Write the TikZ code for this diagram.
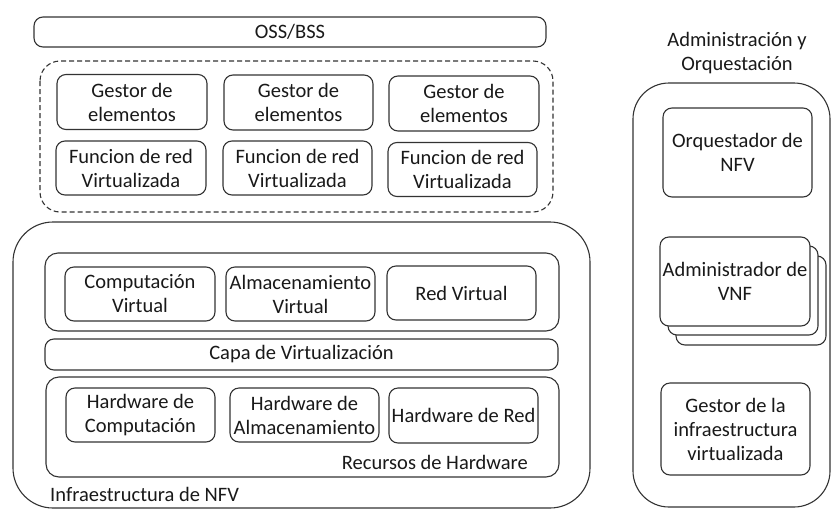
\documentclass[tikz,border=0pt]{standalone}
\usepackage{fontspec}
\setmainfont{Carlito}
\begin{document}
\begin{tikzpicture}[x=1pt,y=-1pt,
  every node/.style={font=\fontsize{20.5}{24}\selectfont, text=black!90},
  ln/.style={draw=black!80, line width=1.1pt},
  box/.style={ln, rounded corners=9pt, align=center, inner sep=0pt, fill=white},
  lbl/.style={inner sep=0pt, align=center}
]
\useasboundingbox (0,0) rectangle (832,509);

% OSS/BSS
\node[box, minimum width=512pt, minimum height=30pt] (oss) at (290,32) {OSS/BSS};

% dashed VNF area
\draw[ln, dashed, dash pattern=on 5pt off 3pt, rounded corners=20pt] (40,61) rectangle (553,212);
\node[box, minimum width=150pt, minimum height=55pt] (ge1) at (132,102) {Gestor de\\elementos};
\node[box, minimum width=149pt, minimum height=55pt] (ge2) at (298.5,102.5) {Gestor de\\elementos};
\node[box, minimum width=150pt, minimum height=55pt] (ge3) at (464,103.5) {Gestor de\\elementos};
\node[box, minimum width=150pt, minimum height=54pt] (fr1) at (131,168) {Funcion de red\\Virtualizada};
\node[box, minimum width=149pt, minimum height=54pt] (fr2) at (297.5,168) {Funcion de red\\Virtualizada};
\node[box, minimum width=149pt, minimum height=54pt] (fr3) at (462.5,169.5) {Funcion de red\\Virtualizada};

% NFV infrastructure
\draw[ln, rounded corners=40pt] (13,222) rectangle (590,508);
\draw[ln, rounded corners=13pt] (45,253) rectangle (559,331);
\node[box, minimum width=150pt, minimum height=54pt] (cv) at (140,294) {Computación\\Virtual};
\node[box, minimum width=149pt, minimum height=54pt] (av) at (300.5,294) {Almacenamiento\\Virtual};
\node[box, minimum width=149pt, minimum height=54pt] (rv) at (461.5,293) {Red Virtual};
\node[box, minimum width=513pt, minimum height=31pt] (capa) at (301.5,354.5) {Capa de Virtualización};
\draw[ln, rounded corners=13pt] (46,377) rectangle (559,477);
\node[box, minimum width=149pt, minimum height=54pt] (hc) at (140.5,415) {Hardware de\\Computación};
\node[box, minimum width=149pt, minimum height=54pt] (ha) at (304.5,415) {Hardware de\\Almacenamiento};
\node[box, minimum width=149pt, minimum height=55pt] (hr) at (463.5,415.5) {Hardware de Red};
\node[lbl, anchor=east] (rec) at (528,462) {Recursos de Hardware};
\node[lbl, anchor=west] (infra) at (50,494) {Infraestructura de NFV};

% Administration and orchestration
\node[lbl] (adm) at (737,53) {Administración y\\Orquestación};
\draw[ln, rounded corners=36pt] (633,83) rectangle (830,507);
\node[box, minimum width=149pt, minimum height=89pt] (orq) at (737.5,152.5) {Orquestador de\\NFV};
\node[box, minimum width=150pt, minimum height=89pt] (vnf3) at (751,300.5) {};
\node[box, minimum width=150pt, minimum height=89pt] (vnf2) at (743,290.5) {};
\node[box, minimum width=150pt, minimum height=89pt] (vnf) at (735,281.5) {Administrador de\\VNF};
\node[box, minimum width=149pt, minimum height=92pt] (gi) at (735.5,429) {Gestor de la\\infraestructura\\virtualizada};
\end{tikzpicture}
\end{document}
